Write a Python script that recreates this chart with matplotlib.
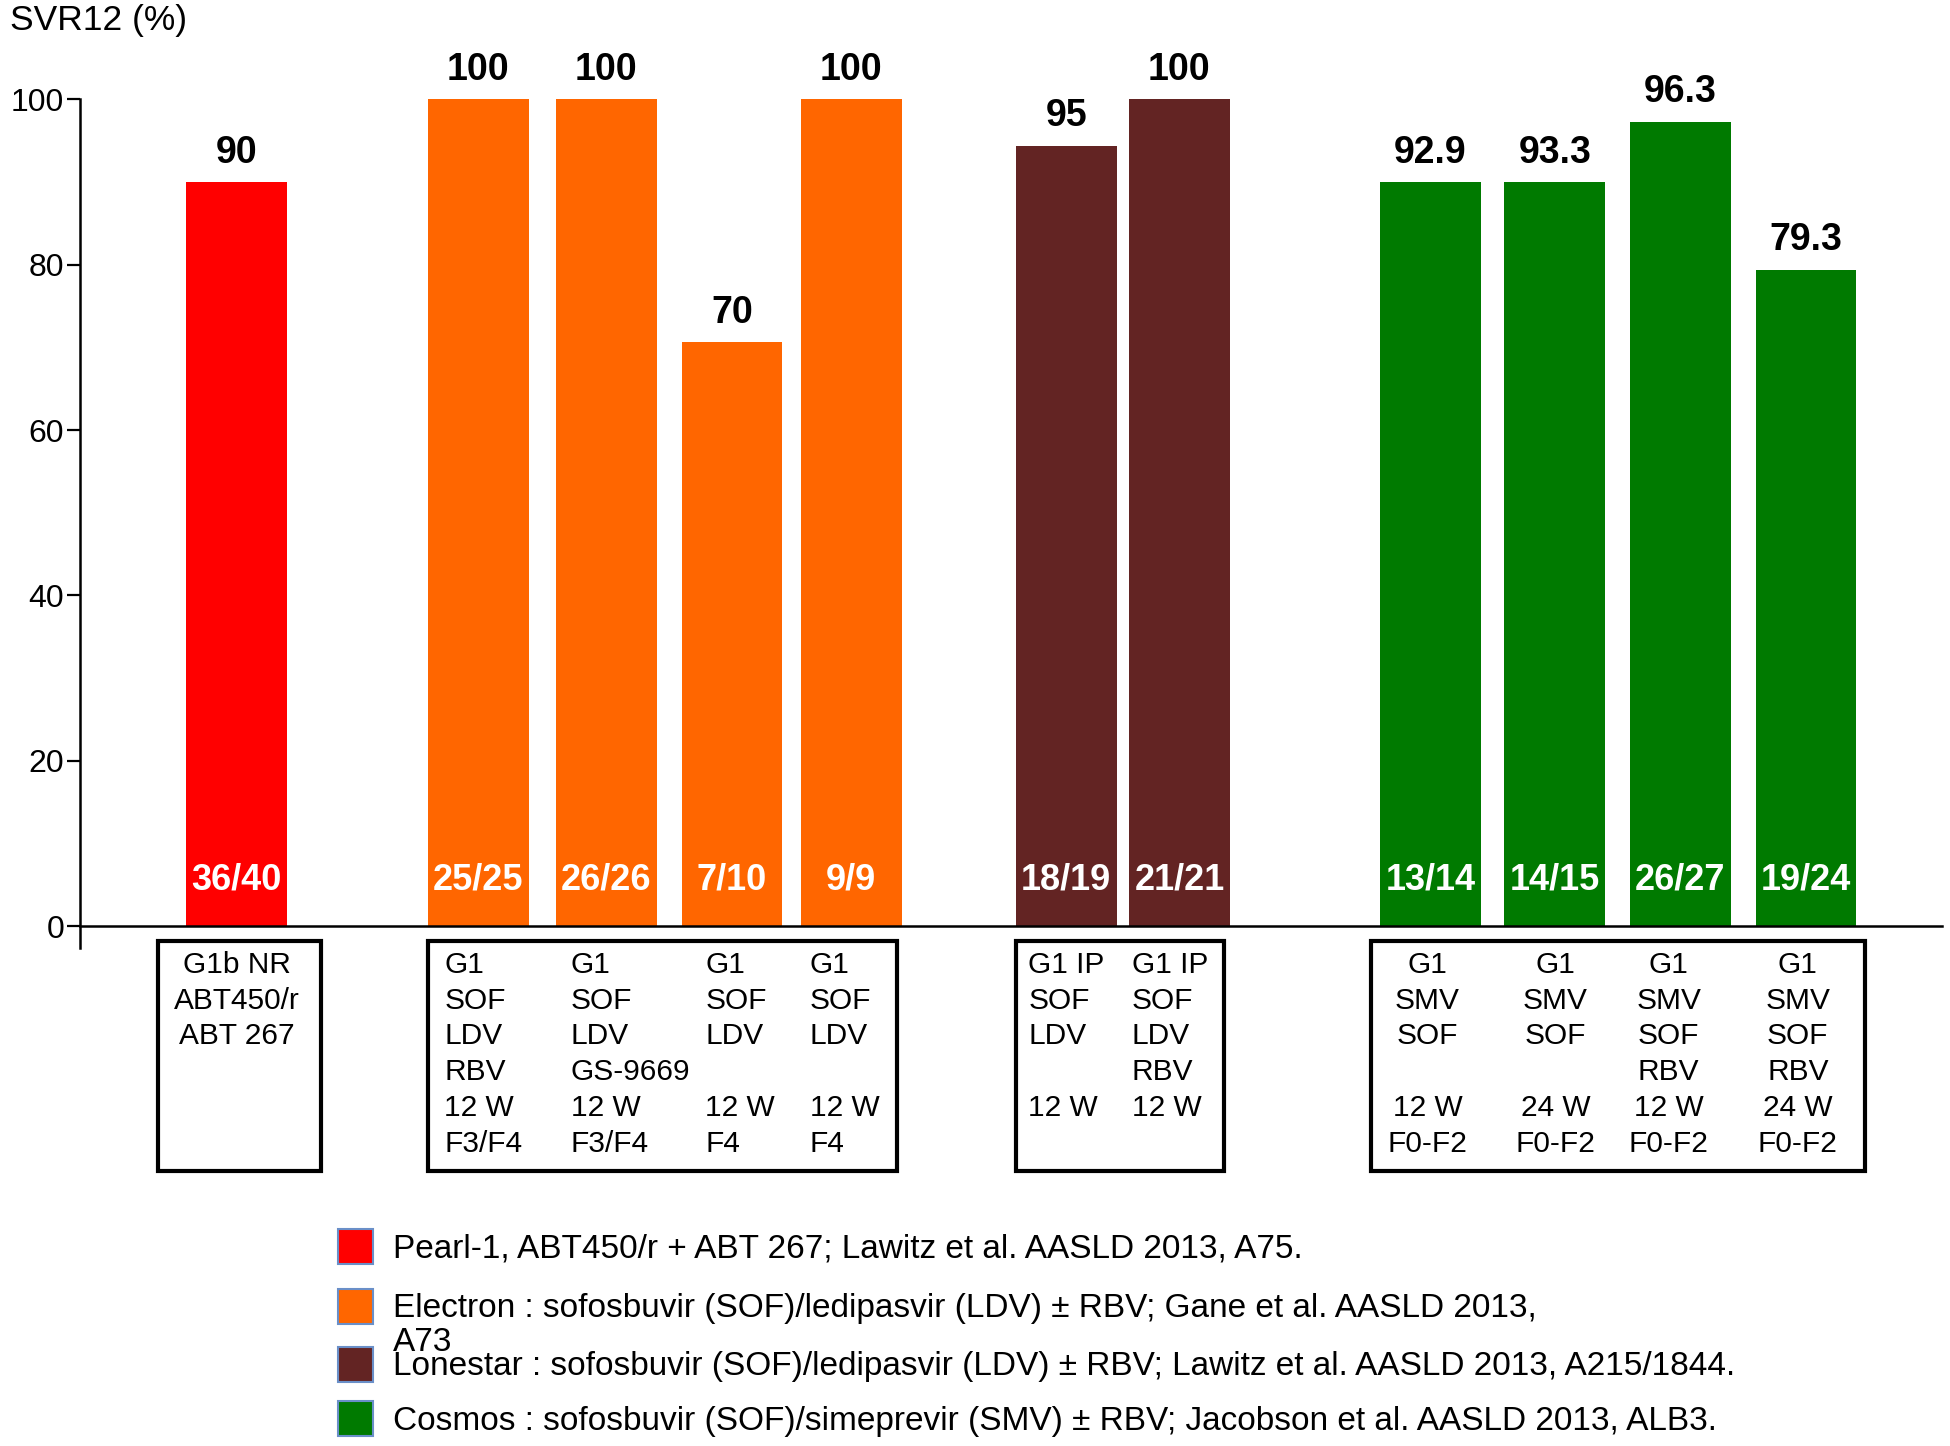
"""
SVR12 rates across Pearl-1, Electron, Lonestar and Cosmos study arms.
"""

import matplotlib.pyplot as plt
from matplotlib.patches import Rectangle
from matplotlib.transforms import blended_transform_factory

plt.rcParams["font.family"] = ["Liberation Sans", "DejaVu Sans"]

# --- data ------------------------------------------------------------------
bar_heights = [90, 100, 100, 70.6, 100, 94.4, 100, 90, 90, 97.3, 79.4]
value_labels = ["90", "100", "100", "70", "100", "95", "100",
                "92.9", "93.3", "96.3", "79.3"]
patient_counts = ["36/40", "25/25", "26/26", "7/10", "9/9", "18/19", "21/21",
                  "13/14", "14/15", "26/27", "19/24"]
study_of_bar = [0, 1, 1, 1, 1, 2, 2, 3, 3, 3, 3]

studies = ["Pearl-1", "Electron", "Lonestar", "Cosmos"]
study_colors = ["#FF0000", "#FF6600", "#632423", "#007A00"]
legend_texts = [
    "Pearl-1, ABT450/r + ABT 267; Lawitz et al. AASLD 2013, A75.",
    "Electron : sofosbuvir (SOF)/ledipasvir (LDV) \u00b1 RBV; Gane et al. AASLD 2013,\nA73",
    "Lonestar : sofosbuvir (SOF)/ledipasvir (LDV) \u00b1 RBV; Lawitz et al. AASLD 2013, A215/1844.",
    "Cosmos : sofosbuvir (SOF)/simeprevir (SMV) \u00b1 RBV; Jacobson et al. AASLD 2013, ALB3.",
]

# regimen description per bar, one line per row of the boxes
regimens = [
    ["G1b NR", "ABT450/r", "ABT 267"],
    ["G1", "SOF", "LDV", "RBV", "12 W", "F3/F4"],
    ["G1", "SOF", "LDV", "GS-9669", "12 W", "F3/F4"],
    ["G1", "SOF", "LDV", "", "12 W", "F4"],
    ["G1", "SOF", "LDV", "", "12 W", "F4"],
    ["G1 IP", "SOF", "LDV", "", "12 W", ""],
    ["G1 IP", "SOF", "LDV", "RBV", "12 W", ""],
    ["G1", "SMV", "SOF", "", "12 W", "F0-F2"],
    ["G1", "SMV", "SOF", "", "24 W", "F0-F2"],
    ["G1", "SMV", "SOF", "RBV", "12 W", "F0-F2"],
    ["G1", "SMV", "SOF", "RBV", "24 W", "F0-F2"],
]

# --- layout ------------------------------------------------------------------
BAR_X = [1.26, 3.205, 4.235, 5.245, 6.205, 7.935, 8.845,
         10.865, 11.865, 12.875, 13.885]
BAR_W = 0.81
X_MAX = 14.98
Y_MIN = -2.6

# regimen text anchors (x, ha) and boxes (x0, x1) in data units
TEXT_X = [1.26, 2.93, 3.95, 5.03, 5.87, 7.63, 8.46, 10.84, 11.87, 12.78, 13.82]
TEXT_HA = ["center", "left", "left", "left", "left", "left", "left",
           "center", "center", "center", "center"]
BOXES = [(0.63, 1.94), (2.80, 6.57), (7.53, 9.20), (10.39, 14.36)]
BOX_Y0, BOX_Y1 = 0.190, 0.349
ROW_Y0, ROW_STEP = 0.3328, 0.0248

fig = plt.figure(figsize=(19.5, 14.46), dpi=100)
ax = fig.add_axes([80 / 1950, 0.3447, (1942 - 80) / 1950, 0.9313 - 0.3447])

colors = [study_colors[s] for s in study_of_bar]
ax.bar(BAR_X, bar_heights, width=BAR_W, color=colors, zorder=2)

for x, h, lab, cnt in zip(BAR_X, bar_heights, value_labels, patient_counts):
    ax.annotate(lab, (x, h), xytext=(0, 14), textcoords="offset points",
                ha="center", va="baseline", fontsize=27, fontweight="bold",
                annotation_clip=False)
    ax.text(x, 5.6, cnt, ha="center", va="center", fontsize=26,
            fontweight="bold", color="white", zorder=3)

ax.set_xlim(0, X_MAX)
ax.set_ylim(Y_MIN, 100)
ax.set_yticks([0, 20, 40, 60, 80, 100])
ax.set_xticks([])
for side in ("top", "right"):
    ax.spines[side].set_visible(False)
ax.spines["bottom"].set_position(("data", 0))
ax.spines["left"].set_linewidth(1.8)
ax.spines["bottom"].set_linewidth(1.8)
ax.tick_params(axis="y", direction="out", length=9.5, width=1.6,
               labelsize=23, pad=2)

fig.text(10 / 1950, 0.9855, "SVR12 (%)", fontsize=25.5, ha="left", va="center")

# regimen boxes under the axis
trans = blended_transform_factory(ax.transData, fig.transFigure)
for x0, x1 in BOXES:
    fig.patches.append(Rectangle((x0, BOX_Y0), x1 - x0, BOX_Y1 - BOX_Y0,
                                 transform=trans, fill=False,
                                 edgecolor="black", linewidth=3))
for x, ha, lines in zip(TEXT_X, TEXT_HA, regimens):
    for i, line in enumerate(lines):
        if line:
            fig.text(x, ROW_Y0 - i * ROW_STEP, line, transform=trans,
                     ha=ha, va="center", fontsize=21.5)

# legend
LEG_Y = [0.1383, 0.0968, 0.0567, 0.0187]
SQ_X, SQ_W, SQ_H = 338 / 1950, 35 / 1950, 35 / 1446
TXT_X = 393 / 1950
for y, col, txt in zip(LEG_Y, study_colors, legend_texts):
    fig.patches.append(Rectangle((SQ_X, y - SQ_H / 2), SQ_W, SQ_H,
                                 transform=fig.transFigure, facecolor=col,
                                 edgecolor="#6A8FC8", linewidth=1.5))
    fig.text(TXT_X, y + SQ_H * 0.55 - 0.0045, txt, ha="left", va="top",
             fontsize=24, linespacing=1.13)

fig.savefig("out.png", dpi=100)
